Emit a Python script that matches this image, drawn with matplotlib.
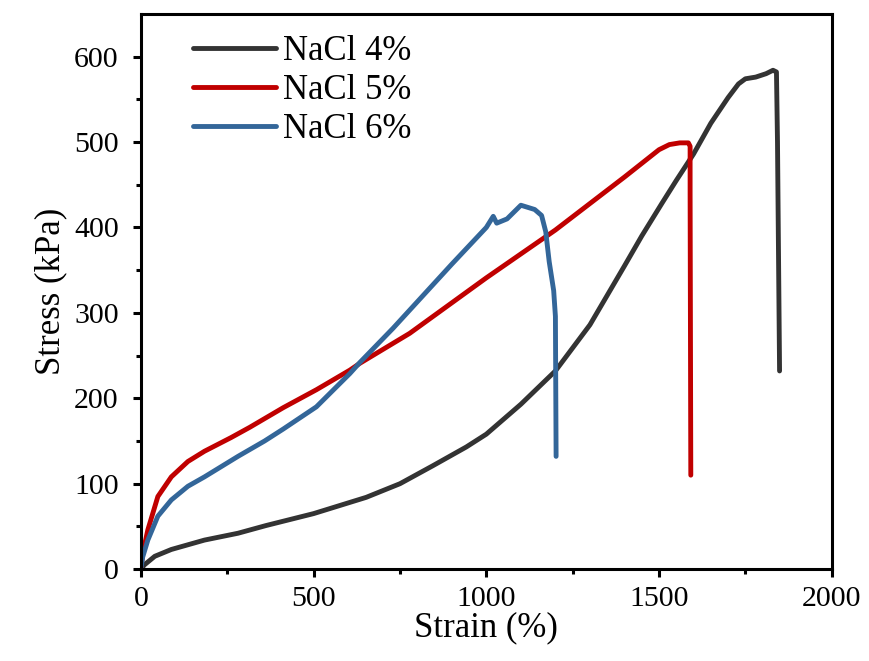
import matplotlib.pyplot as plt

plt.rcParams['font.family'] = ['Liberation Serif', 'DejaVu Serif']

# NaCl 4%
strain_4 = [0, 10, 40, 88, 184, 281, 362, 500, 652, 750, 845, 942, 1000, 1100, 1200,
            1300, 1400, 1450, 1508, 1550, 1600, 1650, 1700, 1730, 1750, 1780, 1810, 1830,
            1840, 1843, 1849]
stress_4 = [0, 5, 15, 23, 34, 42, 51, 65, 84, 100, 121, 143, 158, 193, 232,
            286, 355, 390, 428, 455, 486, 522, 552, 568, 574, 576, 580, 584,
            582, 500, 232]
# NaCl 5%
strain_5 = [0, 5, 20, 49, 88, 136, 184, 261, 315, 412, 508, 605, 634, 778, 1000, 1200, 1400,
            1500, 1530, 1560, 1585, 1590, 1590, 1592]
stress_5 = [0, 18, 46, 85, 108, 126, 138, 154, 166, 189, 210, 233, 241, 276, 341, 397, 459,
            491, 497, 499, 499, 495, 440, 110]
# NaCl 6%
strain_6 = [0, 5, 20, 49, 88, 136, 184, 281, 358, 412, 508, 605, 634, 730, 900, 1000,
            1020, 1030, 1060, 1100, 1140, 1160, 1172, 1182, 1195, 1200, 1202]
stress_6 = [0, 14, 34, 62, 81, 97, 108, 132, 150, 164, 190, 229, 242, 282, 357, 400,
            413, 405, 410, 426, 421, 414, 395, 360, 326, 296, 132]

fig = plt.figure(figsize=(8.7, 6.61), dpi=100)
ax = fig.add_axes([0.162, 0.139, 0.794, 0.840])

ax.plot(strain_4, stress_4, color='#333333', lw=3.5, label='NaCl 4%', solid_capstyle='round')
ax.plot(strain_5, stress_5, color='#c00000', lw=3.5, label='NaCl 5%', solid_capstyle='round')
ax.plot(strain_6, stress_6, color='#336699', lw=3.5, label='NaCl 6%', solid_capstyle='round')

ax.set_xlim(0, 2000)
ax.set_ylim(0, 650)
ax.set_xticks([0, 500, 1000, 1500, 2000])
ax.set_xticks([250, 750, 1250, 1750], minor=True)
ax.set_yticks([0, 100, 200, 300, 400, 500, 600])
ax.set_yticks(range(50, 650, 100), minor=True)
ax.tick_params(which='major', direction='out', length=6, width=2.2, labelsize=21.5)
ax.tick_params(axis='y', which='major', pad=10)
ax.tick_params(axis='x', which='major', pad=6)
ax.tick_params(which='minor', direction='out', length=3.5, width=2.2)
for s in ax.spines.values():
    s.set_linewidth(2.2)

ax.set_xlabel('Strain (%)', fontsize=25, labelpad=0)
ax.set_ylabel('Stress (kPa)', fontsize=25, labelpad=5)

ax.legend(loc='upper left', bbox_to_anchor=(0.045, 1.0), frameon=False, fontsize=25,
          handlelength=2.4, handletextpad=0.2, labelspacing=0.18, borderaxespad=0.2)

fig.savefig('out.png', dpi=100)
